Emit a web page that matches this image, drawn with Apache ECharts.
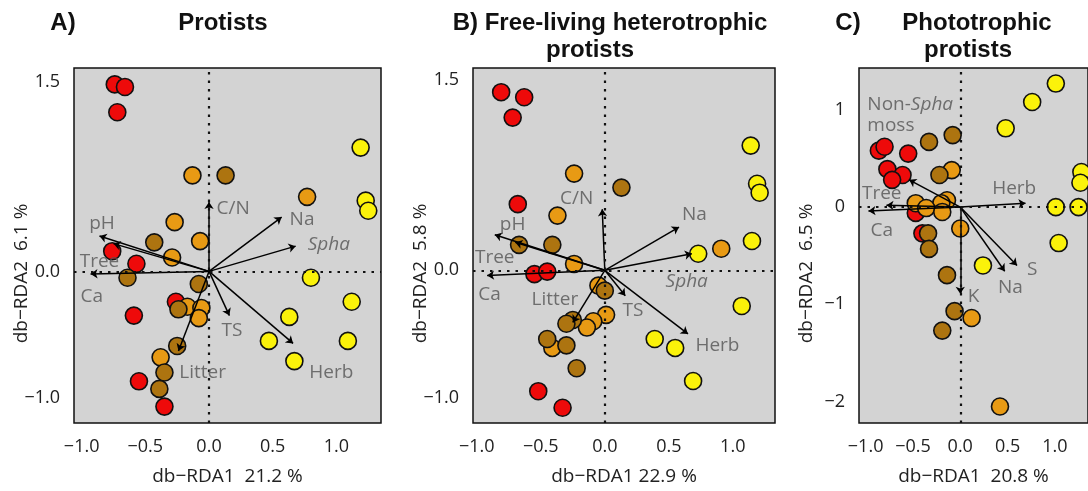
<!DOCTYPE html>
<html>
<head>
<meta charset="utf-8">
<script src="https://cdn.jsdelivr.net/npm/echarts@6/dist/echarts.min.js"></script>
<style>
  html, body { margin: 0; padding: 0; background: #fff; }
  #main { width: 1088px; height: 491px; }
</style>
</head>
<body>
<div id="main"></div>
<script>
// ---- site scores (db-RDA1, db-RDA2) ----
// A) Protists
const redA = [[-0.74,1.48],[-0.66,1.46],[-0.72,1.26],[-0.76,0.16],[-0.57,0.06],[-0.26,-0.24],[-0.59,-0.35],[-0.55,-0.87],[-0.35,-1.07]];
const orangeA = [[-0.13,0.76],[0.77,0.59],[-0.27,0.39],[-0.07,0.24],[-0.29,0.11],[-0.17,-0.28],[-0.06,-0.29],[-0.08,-0.37],[-0.38,-0.68]];
const brownA = [[0.13,0.76],[-0.43,0.23],[-0.64,-0.05],[-0.08,-0.10],[-0.24,-0.30],[-0.25,-0.59],[-0.35,-0.80],[-0.39,-0.93]];
const yellowA = [[1.19,0.98],[1.23,0.56],[1.25,0.48],[0.80,-0.05],[1.12,-0.24],[0.63,-0.36],[0.47,-0.55],[1.09,-0.55],[0.67,-0.71]];

// B) Free-living heterotrophic protists
const redB = [[-0.81,1.40],[-0.63,1.36],[-0.72,1.20],[-0.68,0.52],[-0.55,-0.03],[-0.45,-0.01],[-0.52,-0.95],[-0.33,-1.08]];
const orangeB = [[-0.24,0.76],[-0.37,0.43],[0.91,0.17],[-0.24,0.05],[-0.05,-0.12],[0.01,-0.35],[-0.09,-0.40],[-0.14,-0.45],[-0.41,-0.61]];
const brownB = [[0.13,0.65],[-0.67,0.20],[-0.41,0.20],[0.0,-0.16],[-0.25,-0.39],[-0.30,-0.42],[-0.45,-0.54],[-0.30,-0.59],[-0.22,-0.77]];
const yellowB = [[1.14,0.98],[1.19,0.68],[1.21,0.61],[1.15,0.23],[0.73,0.13],[1.07,-0.28],[0.39,-0.54],[0.55,-0.61],[0.69,-0.87]];

// C) Phototrophic protists
const redC = [[-0.86,0.58],[-0.80,0.62],[-0.55,0.55],[-0.77,0.39],[-0.61,0.33],[-0.72,0.28],[-0.47,-0.06],[-0.40,-0.27]];
const orangeC = [[-0.09,0.38],[-0.14,0.07],[-0.20,0.04],[-0.47,0.04],[-0.36,-0.01],[-0.19,-0.05],[0.0,-0.22],[0.12,-1.14],[0.42,-2.05]];
const brownC = [[-0.08,0.74],[-0.33,0.67],[-0.22,0.33],[-0.34,-0.27],[-0.33,-0.43],[-0.14,-0.70],[-0.06,-1.07],[-0.19,-1.27]];
const yellowC = [[1.01,1.27],[0.76,1.08],[0.48,0.81],[1.28,0.36],[1.27,0.25],[1.01,0.0],[1.25,0.0],[1.04,-0.37],[0.24,-0.60]];

// ---- environmental vectors: name, tip x, tip y, label x, label y ----
const envA = [
  ['C/N', 0.0, 0.55, 0.19, 0.50],
  ['Na', 0.57, 0.43, 0.73, 0.41],
  ['Spha', 0.68, 0.20, 0.94, 0.21],
  ['pH', -0.86, 0.28, -0.84, 0.38],
  ['Tree', -0.75, 0.22, -0.86, 0.08],
  ['Ca', -0.93, -0.02, -0.92, -0.20],
  ['TS', 0.16, -0.35, 0.18, -0.47],
  ['Herb', 0.66, -0.57, 0.96, -0.80],
  ['Litter', -0.24, -0.63, -0.05, -0.80]
];
const envB = [
  ['C/N', -0.02, 0.48, -0.22, 0.56],
  ['Na', 0.58, 0.34, 0.70, 0.44],
  ['Spha', 0.68, 0.13, 0.64, -0.09],
  ['pH', -0.86, 0.28, -0.72, 0.36],
  ['Tree', -0.70, 0.22, -0.86, 0.10],
  ['Ca', -0.92, -0.04, -0.90, -0.19],
  ['TS', 0.16, -0.20, 0.22, -0.32],
  ['Herb', 0.65, -0.50, 0.88, -0.59],
  ['Litter', -0.25, -0.41, -0.39, -0.23]
];
const envC = [
  ['Non-Spha moss', -0.54, 0.28, -1.04, 0.95],
  ['Tree', -0.78, 0.02, -0.83, 0.14],
  ['Ca', -0.97, -0.04, -0.83, -0.24],
  ['Herb', 0.69, 0.04, 0.57, 0.19],
  ['K', 0.0, -0.89, 0.14, -0.92],
  ['Na', 0.47, -0.66, 0.53, -0.83],
  ['S', 0.60, -0.60, 0.76, -0.64]
];

const xTicks = [-1.0, -0.5, 0.0, 0.5, 1.0];
const yTicksA = [-1.0, 0.0, 1.5];
const yTicksB = [-1.0, 0.0, 1.5];
const yTicksC = [-2, -1, 0, 1];

const xNames = ['db\u2212RDA1  21.2 %', 'db\u2212RDA1 22.9 %', 'db\u2212RDA1  20.8 %'];
const yNames = ['db\u2212RDA2  6.1 %', 'db\u2212RDA2  5.8 %', 'db\u2212RDA2  6.5 %'];

const FONT = '"Open Sans", "DejaVu Sans", sans-serif';
const colors = { red: '#ee0a0a', orange: '#e89a14', brown: '#ad7410', yellow: '#fbf20a' };
const labelGrey = '#545454';

function fmt1(v) { return (v < 0 ? '\u2212' : '') + Math.abs(v).toFixed(1); }
function fmt0(v) { return (v < 0 ? '\u2212' : '') + Math.abs(v).toFixed(0); }

// panel C runs off the right edge of the figure
const grids = [
  { left: 74, top: 68, width: 307, height: 357 },
  { left: 473, top: 68, width: 302, height: 357 },
  { left: 859, top: 68, width: 230, height: 355 }
];
const xRanges = [[-1.06, 1.35], [-1.03, 1.33], [-1.07, 1.35]];
const yRanges = [[-1.20, 1.61], [-1.20, 1.59], [-2.22, 1.43]];
const yTicks = [yTicksA, yTicksB, yTicksC];
const yFmt = [fmt1, fmt1, fmt0];
const groups = [
  [redA, orangeA, brownA, yellowA],
  [redB, orangeB, brownB, yellowB],
  [redC, orangeC, brownC, yellowC]
];
const envs = [envA, envB, envC];

const titleFont = 'bold 24px "Liberation Sans", Arial';
function titleText(x, y, t) {
  return { type: 'text', x: x, y: y, style: { text: t, font: titleFont, fill: '#111', align: 'center', verticalAlign: 'middle' } };
}

const option = {
  animation: false,
  grid: [], xAxis: [], yAxis: [], series: [],
  graphic: [
    titleText(63, 23, 'A)'),
    titleText(223, 23, 'Protists'),
    titleText(610, 23, 'B) Free-living heterotrophic'),
    titleText(590, 50, 'protists'),
    titleText(848, 23, 'C)'),
    titleText(977, 23, 'Phototrophic'),
    titleText(968, 50, 'protists')
  ]
};

for (let p = 0; p < 3; p++) {
  option.grid.push(Object.assign({
    show: true, backgroundColor: '#d3d3d3', borderColor: '#111', borderWidth: 1.5, containLabel: false
  }, grids[p]));
  option.xAxis.push({
    type: 'value', gridIndex: p, min: xRanges[p][0], max: xRanges[p][1],
    name: xNames[p], nameLocation: 'middle', nameGap: 44, nameMoveOverlap: false,
    nameTextStyle: { fontFamily: FONT, fontSize: 19, color: '#222' },
    axisLine: { show: false }, axisTick: { show: false }, splitLine: { show: false },
    axisLabel: { customValues: xTicks, formatter: fmt1, margin: 15, fontFamily: FONT, fontSize: 18, color: '#222' }
  });
  option.yAxis.push({
    type: 'value', gridIndex: p, min: yRanges[p][0], max: yRanges[p][1],
    name: yNames[p], nameLocation: 'middle', nameGap: 43, nameMoveOverlap: false,
    nameTextStyle: { fontFamily: FONT, fontSize: 19, color: '#222', padding: [0, 56, 0, 0] },
    axisLine: { show: false }, axisTick: { show: false }, splitLine: { show: false },
    axisLabel: { customValues: yTicks[p], formatter: yFmt[p], margin: 14, fontFamily: FONT, fontSize: 18, color: '#222' }
  });

  const cols = [colors.red, colors.orange, colors.brown, colors.yellow];
  groups[p].forEach(function (pts, g) {
    option.series.push({
      type: 'scatter', xAxisIndex: p, yAxisIndex: p, data: pts, z: 2,
      symbolSize: 17,
      itemStyle: { color: cols[g], borderColor: '#111', borderWidth: 1.6, opacity: 1 },
      silent: true
    });
  });

  // environmental arrows
  option.series.push({
    type: 'lines', coordinateSystem: 'cartesian2d', xAxisIndex: p, yAxisIndex: p, z: 4,
    symbol: ['none', 'arrow'], symbolSize: 7,
    lineStyle: { color: '#000', width: 1.5, opacity: 1 },
    data: envs[p].map(function (e) { return { coords: [[0, 0], [e[1], e[2]]] }; }),
    silent: true
  });

  // arrow labels
  option.series.push({
    type: 'scatter', xAxisIndex: p, yAxisIndex: p, z: 5, symbolSize: 1,
    itemStyle: { color: 'transparent' }, silent: true,
    label: {
      show: true, position: 'inside', fontFamily: FONT, fontSize: 19, color: labelGrey,
      formatter: function (d) { return d.value[2]; }
    },
    data: envs[p].map(function (e) {
      if (e[0] === 'Spha') {
        return { value: [e[3], e[4], 'Spha'], label: { formatter: '{i|Spha}', rich: { i: { fontStyle: 'italic', fontFamily: FONT, fontSize: 19, color: labelGrey } } } };
      }
      if (e[0] === 'Non-Spha moss') {
        return { value: [e[3], e[4], e[0]], label: {
          position: 'right', align: 'left',
          formatter: '{n|Non-}{i|Spha}\n{n|moss}',
          rich: {
            n: { fontFamily: FONT, fontSize: 19, color: labelGrey, lineHeight: 21 },
            i: { fontStyle: 'italic', fontFamily: FONT, fontSize: 19, color: labelGrey, lineHeight: 21 }
          }
        } };
      }
      return { value: [e[3], e[4], e[0]] };
    })
  });

  // dotted zero lines
  option.series.push({
    type: 'scatter', xAxisIndex: p, yAxisIndex: p, data: [], z: 6,
    markLine: {
      silent: true, symbol: ['none', 'none'], label: { show: false },
      lineStyle: { color: '#111', type: [2.5, 6], width: 2.2, cap: 'butt' },
      data: [{ xAxis: 0 }, { yAxis: 0 }]
    }
  });
}

const chart = echarts.init(document.getElementById('main'));
chart.setOption(option);
</script>
</body>
</html>
